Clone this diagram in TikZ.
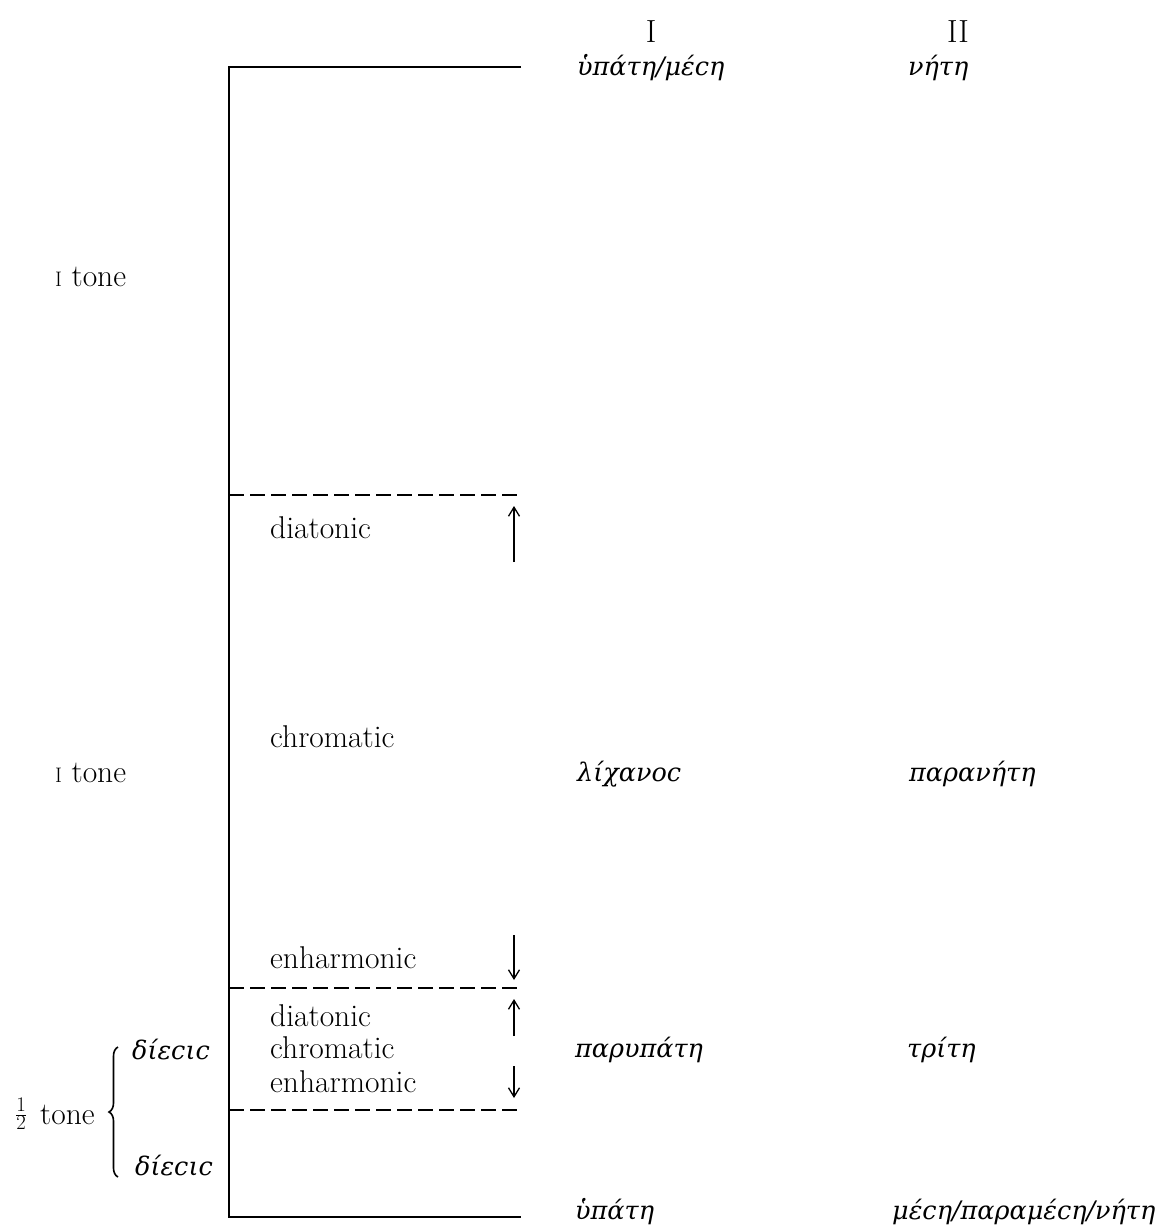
\documentclass[tikz,border=0pt]{standalone}
\usepackage{fontspec}
\newfontfamily\grk{DejaVu Serif}
\usetikzlibrary{arrows.meta,decorations.pathreplacing}
\newcommand{\osone}{{\fontsize{21}{21}\selectfont I}}
\tikzset{
  lat/.style={inner sep=0pt,anchor=west,font=\fontsize{31.5}{38}\selectfont},
  gr/.style={inner sep=0pt,anchor=west,font=\fontsize{25.5}{32}\selectfont\grk\itshape},
  hd/.style={inner sep=0pt,font=\fontsize{32}{38}\selectfont},
  solidline/.style={line width=2.6pt},
  dashline/.style={line width=1.8pt,dash pattern=on 15pt off 6pt},
  pitch/.style={line width=1.3pt,-{Straight Barb[length=9pt,width=11pt]}}
}
\begin{document}
\begin{tikzpicture}[x=1pt,y=-1pt]
\useasboundingbox (0,0) rectangle (1169,1228);
% frame coordinates
\coordinate (tl) at (229,67);
\coordinate (tr) at (521,67);
\coordinate (bl) at (229,1217);
\coordinate (br) at (521,1217);
\coordinate (d1l) at (229,495);
\coordinate (d1r) at (521,495);
\coordinate (d2l) at (229,988);
\coordinate (d2r) at (521,988);
\coordinate (d3l) at (229,1110);
\coordinate (d3r) at (521,1110);
\draw[solidline] (tr) -- (tl) -- (bl) -- (br);
\draw[dashline] (d1l) -- (d1r);
\draw[dashline] (d2l) -- (d2r);
\draw[dashline] (d3l) -- (d3r);
% arrows
\coordinate (a1s) at (514,562); \coordinate (a1e) at (514,506);
\coordinate (a2s) at (514,935); \coordinate (a2e) at (514,980);
\coordinate (a3s) at (514,1036); \coordinate (a3e) at (514,999);
\coordinate (a4s) at (514,1066); \coordinate (a4e) at (514,1098);
\draw[pitch] (a1s) -- (a1e);
\draw[pitch] (a2s) -- (a2e);
\draw[pitch] (a3s) -- (a3e);
\draw[pitch] (a4s) -- (a4e);
% headings
\node[hd] (hI) at (651,32) {I};
\node[hd] (hII) at (958,32) {II};
\node[gr] (n1) at (577,68) {ὑπάτη/μέϲη};
\node[gr] (n2) at (908,68) {νήτη};
\node[gr] (n3) at (577,774) {λίχανοϲ};
\node[gr] (n4) at (909,774) {παρανήτη};
\node[gr] (n5) at (575,1050) {παρυπάτη};
\node[gr] (n6) at (907,1050) {τρίτη};
\node[gr] (n7) at (575,1212) {ὑπάτη};
\node[gr] (n8) at (892,1212) {μέϲη/παραμέϲη/νήτη};
% genus labels
\node[lat] (g1) at (270,528) {diatonic};
\node[lat] (g2) at (270,737) {chromatic};
\node[lat] (g3) at (270,958) {enharmonic};
\node[lat] (g4) at (270,1016) {diatonic};
\node[lat] (g5) at (270,1048) {chromatic};
\node[lat] (g6) at (270,1082) {enharmonic};
% intervals
\node[lat] (t1) at (55,277) {\osone\ tone};
\node[lat] (t2) at (55,773) {\osone\ tone};
\node[lat] (half) at (15,1114) {\fontsize{30}{30}\selectfont$\frac{1}{2}$};
\node[lat] (t3) at (40,1115) {tone};
\node[gr] (s1) at (132,1050) {δίεϲιϲ};
\node[gr] (s2) at (135,1166) {δίεϲιϲ};
\coordinate (bb) at (118,1177);
\coordinate (bt) at (118,1047);
\draw[line width=1.6pt,decorate,decoration={brace,amplitude=9pt}] (bb) -- (bt);
\end{tikzpicture}
\end{document}
